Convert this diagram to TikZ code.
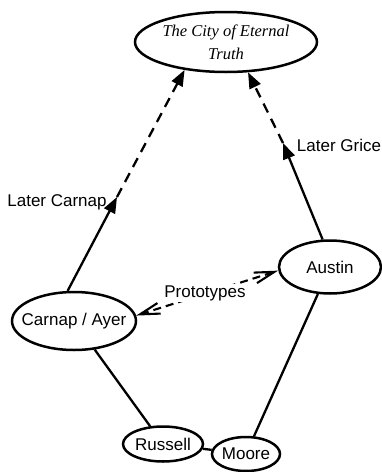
\documentclass[tikz,border=0pt]{standalone}
\usepackage{fontspec}
\setmainfont{Liberation Sans}
\newfontfamily\cityfont{Liberation Serif}
\usetikzlibrary{shapes.geometric,arrows.meta}
\begin{document}
\begin{tikzpicture}[x=1pt,y=-1pt,
  every node/.style={font=\fontsize{17}{20}\selectfont},
  oval/.style={ellipse, draw, line width=2.5pt, inner sep=0pt},
  conn/.style={line width=2.3pt},
  dashedconn/.style={line width=2.3pt, dash pattern=on 10pt off 7pt},
  tri/.style={-{Triangle[length=16pt,width=12pt]}},
  proto/.style={line width=2.1pt, dash pattern=on 8pt off 5pt,
    {Straight Barb[length=20pt,width=11pt]}-{Straight Barb[length=20pt,width=11pt]}},
  lbl/.style={inner sep=1pt}
]
\useasboundingbox (0,0) rectangle (381,472);
\node[oval, minimum width=182pt, minimum height=60pt,
  label={[font=\cityfont\itshape\fontsize{16.5}{23}\selectfont, align=center]center:The City of Eternal\\Truth}] (city) at (226,42) {};
\node[oval, minimum width=124pt, minimum height=58pt, label={center:Carnap / Ayer}] (carnap) at (74,321) {};
\node[oval, minimum width=102pt, minimum height=53pt, label={center:Austin}] (austin) at (330,267) {};
\node[oval, minimum width=80pt, minimum height=35pt, label={center:Russell}] (russell) at (163,444) {};
\node[oval, minimum width=68pt, minimum height=34pt, label={center:Moore}] (moore) at (246,454) {};

\coordinate (cmid) at (117,197);
\coordinate (gmid) at (283,143);

\draw[conn, tri] (carnap.102) -- (cmid);
\draw[dashedconn, tri] (cmid) -- (city.214);
\draw[conn, tri] (austin.105) -- (gmid);
\draw[dashedconn, tri] (gmid) -- (city.306);

\node[lbl] (lc) at (57,202) {Later Carnap};
\node[lbl] (lg) at (339,145) {Later Grice};

\draw[proto] (carnap.5) -- (austin.184);
\node[fill=white, inner sep=1pt] (pt) at (205,293) {Prototypes};

\draw[conn] (carnap) -- (russell);
\draw[conn] (russell) -- (moore);
\draw[conn] (austin) -- (moore);
\end{tikzpicture}
\end{document}
